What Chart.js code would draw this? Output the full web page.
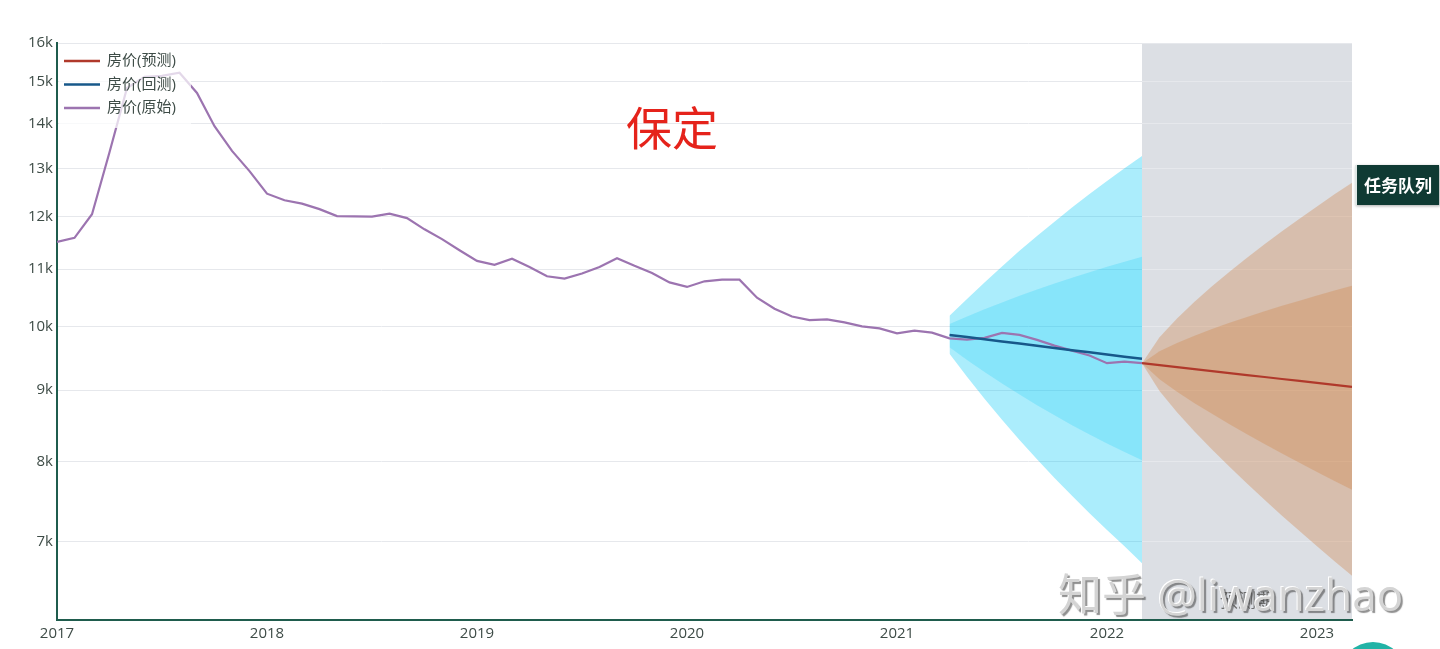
<!DOCTYPE html>
<html>
<head>
<meta charset="utf-8">
<script src="https://cdn.jsdelivr.net/npm/chart.js@4.4.1/dist/chart.umd.min.js"></script>
<style>
html, body { margin: 0; padding: 0; background: #fff; }
#wrap { position: relative; width: 1440px; height: 649px; overflow: hidden; }
canvas { position: absolute; left: 0; top: 0; }
.mark {
  position: absolute; left: 1058px; top: 560px;
  font: 44px "Open Sans", "Noto Sans CJK SC", sans-serif;
  color: #d4d4d4; white-space: nowrap;
  text-shadow: -1px -1px 0 #fff, 2px 2px 1px rgba(70,70,70,0.6);
}
.badge {
  position: absolute; left: 1355px; top: 165px; width: 82px; height: 40px;
  background: #0f3a33; border-left: 2px solid #dfe7e5;
  color: #fff; font: bold 17px "Noto Sans CJK SC", sans-serif;
  line-height: 40px; text-align: center;
  box-shadow: 1px 1px 3px rgba(0,0,0,0.35);
}
.dot {
  position: absolute; left: 1340px; top: 642px; width: 66px; height: 66px;
  border-radius: 50%; background: #22b3a6;
}
</style>
</head>
<body>
<div id="wrap">
  <canvas id="chart" width="1440" height="649"></canvas>
  <div class="mark">知乎 @liwanzhao</div>
  <div class="badge">任务队列</div>
  <div class="dot"></div>
</div>
<script>
// data
const chartTitle = '保定';
const bandLabel = '预测期';
const yearTicks = [2017, 2018, 2019, 2020, 2021, 2022, 2023];
const priceTicks = [7000, 8000, 9000, 10000, 11000, 12000, 13000, 14000, 15000, 16000];

const rawStart = '2017-01';
const priceRaw = [
  11508, 11585, 12048, 13350, 14850, 15130, 15150, 15230, 14730, 13940, 13380, 12940,
  12465, 12330, 12260, 12150, 12010, 12005, 12000, 12060, 11970, 11750, 11560, 11350,
  11150, 11080, 11190, 11040, 10870, 10830, 10920, 11040, 11200, 11060, 10930, 10760,
  10680, 10780, 10810, 10810, 10490, 10300, 10170, 10110, 10120, 10070, 10005, 9970,
  9890, 9934, 9901, 9808, 9787, 9815, 9896, 9864, 9783, 9691, 9611, 9532,
  9412, 9438, 9412
];

const backStart = '2021-04';
const priceBack = [9864, 9828, 9793, 9758, 9723, 9688, 9653, 9618, 9584, 9549, 9515, 9480];
const backOuterUp = [10180, 10470, 10760, 11050, 11340, 11620, 11900, 12180, 12460, 12730, 13000, 13270];
const backInnerUp = [10045, 10170, 10292, 10410, 10524, 10634, 10740, 10844, 10944, 11043, 11136, 11227];
const backInnerLo = [9664, 9464, 9277, 9101, 8935, 8780, 8633, 8494, 8364, 8241, 8124, 8013];
const backOuterLo = [9559, 9202, 8874, 8571, 8288, 8028, 7783, 7556, 7341, 7139, 6949, 6756];

const foreStart = '2022-03';
const priceFore = [9412, 9381, 9351, 9320, 9290, 9259, 9229, 9199, 9169, 9139, 9109, 9080, 9050];
const foreOuterUp = [9412, 9827, 10137, 10422, 10691, 10953, 11209, 11462, 11712, 11958, 12205, 12452, 12695];
const foreInnerUp = [9412, 9599, 9732, 9850, 9960, 10063, 10161, 10257, 10350, 10440, 10529, 10616, 10702];
const foreInnerLo = [9412, 9164, 8978, 8809, 8655, 8507, 8367, 8233, 8105, 7980, 7860, 7743, 7630];
const foreOuterLo = [9412, 8987, 8678, 8406, 8159, 7927, 7711, 7506, 7311, 7127, 6949, 6780, 6617];

function toNum(d) {
  const [y, m] = d.split('-').map(Number);
  return y + (m - 1) / 12;
}
function monthsFrom(start, n) {
  let [y, m] = start.split('-').map(Number);
  const out = [];
  for (let i = 0; i < n; i++) {
    out.push(y + '-' + String(m).padStart(2, '0'));
    m++;
    if (m > 12) { m = 1; y++; }
  }
  return out;
}
function pts(start, vals) {
  const months = monthsFrom(start, vals.length);
  return vals.map((v, i) => ({ x: toNum(months[i]), y: v }));
}

const red = '#b0392b', blue = '#17588a', purple = '#9c74b0';
const textCol = '#3e4c47', axisCol = '#1f5c4d';
const font = '"Open Sans", "Noto Sans CJK SC", sans-serif';
const xMax = toNum(monthsFrom(foreStart, priceFore.length).pop());

function line(label, start, vals, color, order, width) {
  return { label, data: pts(start, vals), borderColor: color, borderWidth: width,
    pointRadius: 0, fill: false, order, tension: 0 };
}
function edge(start, vals, fillColor, order) {
  return { data: pts(start, vals), borderWidth: 0, borderColor: 'rgba(0,0,0,0)', pointRadius: 0,
    fill: fillColor ? { target: '+1' } : false, backgroundColor: fillColor || 'rgba(0,0,0,0)', order, tension: 0 };
}

const bandPlugin = {
  id: 'bandPlugin',
  beforeDraw(chart) {
    const { ctx, chartArea: a, scales: { x } } = chart;
    const left = x.getPixelForValue(toNum(foreStart));
    ctx.save();
    ctx.fillStyle = '#dcdfe4';
    ctx.fillRect(left, a.top, a.right - left, a.bottom - a.top);
    ctx.restore();
  },
  afterDatasetsDraw(chart) {
    const { ctx, chartArea: a, scales: { x } } = chart;
    const left = x.getPixelForValue(toNum(foreStart));
    ctx.save();
    ctx.fillStyle = '#6f6f6f';
    ctx.font = '18px ' + font;
    ctx.textAlign = 'center';
    ctx.textBaseline = 'middle';
    ctx.fillText(bandLabel, (left + a.right) / 2, a.bottom - 18);

    // legend
    ctx.fillStyle = 'rgba(255,255,255,0.72)';
    ctx.fillRect(a.left + 2, a.top + 2, 132, 83);
    const items = chart.data.datasets.filter(d => d.label);
    items.forEach((d, i) => {
      const y = a.top + 18 + i * 23.5;
      ctx.strokeStyle = d.borderColor;
      ctx.lineWidth = 2.5;
      ctx.beginPath();
      ctx.moveTo(a.left + 7, y);
      ctx.lineTo(a.left + 43, y);
      ctx.stroke();
      ctx.fillStyle = textCol;
      ctx.font = '15px ' + font;
      ctx.textAlign = 'left';
      ctx.fillText(d.label, a.left + 50, y);
    });

    // title
    ctx.fillStyle = '#e5231b';
    ctx.font = '46px "Noto Sans CJK SC", sans-serif';
    ctx.textAlign = 'center';
    ctx.fillText(chartTitle, 672, 128);
    ctx.restore();
  }
};

new Chart(document.getElementById('chart').getContext('2d'), {
  type: 'line',
  data: {
    datasets: [
      line('房价(预测)', foreStart, priceFore, red, 1, 2.2),
      line('房价(回测)', backStart, priceBack, blue, 2, 2.5),
      line('房价(原始)', rawStart, priceRaw, purple, 3, 2.2),
      edge(backStart, backOuterUp, 'rgba(0,200,245,0.33)', 8),
      edge(backStart, backOuterLo, null, 8),
      edge(backStart, backInnerUp, 'rgba(0,200,245,0.21)', 7),
      edge(backStart, backInnerLo, null, 7),
      edge(foreStart, foreOuterUp, 'rgba(205,125,60,0.33)', 8),
      edge(foreStart, foreOuterLo, null, 8),
      edge(foreStart, foreInnerUp, 'rgba(205,125,60,0.3)', 7),
      edge(foreStart, foreInnerLo, null, 7)
    ]
  },
  options: {
    responsive: false,
    animation: false,
    devicePixelRatio: 1,
    layout: { padding: { top: 43, right: 88, left: 0, bottom: 0 } },
    plugins: { legend: { display: false }, tooltip: { enabled: false } },
    scales: {
      x: {
        type: 'linear',
        min: toNum(rawStart),
        max: xMax,
        afterBuildTicks: s => { s.ticks = yearTicks.map(v => ({ value: v })); },
        afterFit: s => { s.height = 29; },
        grid: { display: false, drawTicks: false },
        border: { display: true, color: axisCol, width: 2 },
        ticks: { color: textCol, font: { size: 15, family: font }, padding: 5,
          maxRotation: 0, autoSkip: false, callback: v => String(v) }
      },
      y: {
        type: 'logarithmic',
        min: 6150,
        max: 16000,
        afterBuildTicks: s => { s.ticks = priceTicks.map(v => ({ value: v })); },
        afterFit: s => { s.width = 57; },
        grid: { color: '#e6e8ec', lineWidth: 1, drawTicks: false },
        border: { display: true, color: axisCol, width: 2 },
        ticks: { color: textCol, font: { size: 15, family: font }, padding: 4,
          autoSkip: false, callback: v => (v / 1000) + 'k' }
      }
    }
  },
  plugins: [bandPlugin]
});
</script>
</body>
</html>
